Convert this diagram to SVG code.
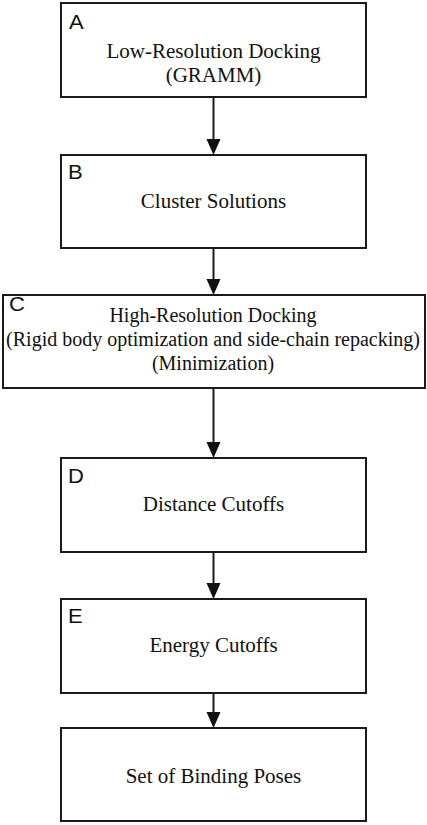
<svg xmlns="http://www.w3.org/2000/svg" width="427" height="825" viewBox="0 0 427 825">
<style>
.box{fill:#fff;stroke:#1a1a1a;stroke-width:2}
.t{font-family:"Liberation Sans",Arial,sans-serif;font-family:"Liberation Serif","Times New Roman",serif;font-size:21px;fill:#111;text-anchor:middle}
.s{font-size:20px}
.l{font-family:"Liberation Sans",Arial,sans-serif;font-size:20px;fill:#111}
.c line{stroke:#1a1a1a;stroke-width:2}
.c polygon{fill:#111}
</style>
<rect width="427" height="825" fill="#fff"/>
<g id="A"><rect class="box" x="61" y="3" width="305" height="94"/><text class="l" transform="translate(69,28.5) scale(1.1,1)">A</text><text class="t" x="213.5" y="58">Low-Resolution Docking</text><text class="t" x="213.5" y="82">(GRAMM)</text></g>
<g id="B"><rect class="box" x="61" y="155" width="305" height="93"/><text class="l" transform="translate(68,178.5) scale(1.1,1)">B</text><text class="t" x="213.5" y="208">Cluster Solutions</text></g>
<g id="C"><rect class="box" x="3" y="295" width="422" height="93"/><text class="l" transform="translate(9,311) scale(1.1,1)">C</text><text class="t s" x="213" y="322">High-Resolution Docking</text><text class="t s" x="213" y="346">(Rigid body optimization and side-chain repacking)</text><text class="t s" x="213" y="370">(Minimization)</text></g>
<g id="D"><rect class="box" x="61" y="458" width="305" height="94"/><text class="l" transform="translate(68,483) scale(1.1,1)">D</text><text class="t" x="213.5" y="511">Distance Cutoffs</text></g>
<g id="E"><rect class="box" x="61" y="599" width="305" height="94"/><text class="l" transform="translate(68,623) scale(1.1,1)">E</text><text class="t" x="213.5" y="652">Energy Cutoffs</text></g>
<g id="F"><rect class="box" x="61" y="728" width="305" height="93"/><text class="t" x="213.5" y="783">Set of Binding Poses</text></g>
<g class="c" id="connectors">
<line x1="213.5" y1="97" x2="213.5" y2="140"/><polygon points="206.5,139 220.5,139 213.5,155"/>
<line x1="213.5" y1="248" x2="213.5" y2="280"/><polygon points="206.5,279 220.5,279 213.5,295"/>
<line x1="213.5" y1="388" x2="213.5" y2="443"/><polygon points="206.5,442 220.5,442 213.5,458"/>
<line x1="213.5" y1="552" x2="213.5" y2="584"/><polygon points="206.5,583 220.5,583 213.5,599"/>
<line x1="213.5" y1="693" x2="213.5" y2="713"/><polygon points="206.5,712 220.5,712 213.5,728"/>
</g>
</svg>
